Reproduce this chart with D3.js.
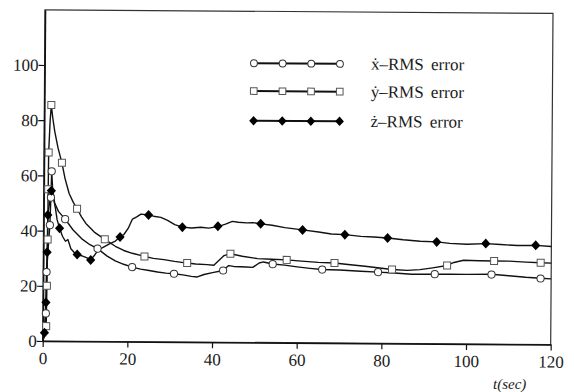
<!DOCTYPE html>
<html>
<head>
<meta charset="utf-8">
<script src="https://cdn.jsdelivr.net/npm/d3@7"></script>
<style>
  svg text { font-family: "Liberation Serif", "Times New Roman", Tinos, serif !important; }
</style>
</head>
<body style="margin:0">
<svg id="plotarea" width="574" height="392"></svg>
<script>
// ---------- data (t in seconds, value = RMS error) ----------
const xDotLine = [[0,0],[0.4,4],[0.7,10],[0.8,25],[1.2,35],[1.5,42],[1.7,52],[1.85,61.5],[2.1,55],[2.6,50],[3.5,47],[5.1,44.2],[7,40.3],[9,37.2],[11,35],[12.8,33.6],[15,31],[17,29.2],[19,28],[21,27],[23,26.3],[25,25.8],[27,25.3],[29,24.9],[30.9,24.7],[33,24.3],[35,23.8],[36.4,23.6],[38,24.5],[40,25.2],[42.5,26],[43.8,27.8],[45,27.5],[48,27.3],[49.5,27.2],[51,28.8],[52,29.2],[54.2,28.5],[57,28.1],[60,27.5],[63,27],[65.9,26.6],[70,26.5],[75,26.1],[79.1,25.8],[83,25.5],[87,25.1],[92.5,25.2],[96,25.2],[100,25.2],[105.9,25.3],[110,24.8],[114,24.3],[117.5,24],[120,23.8]];
const xDotMarks = [[0.7,10],[0.8,25],[1.5,42],[1.7,52],[1.85,61.5],[5.1,44.2],[12.8,33.6],[21,27],[30.9,24.7],[42.5,26],[54.2,28.4],[65.9,26.6],[79.1,25.8],[92.5,25.2],[105.9,25.2],[117.5,23.9]];

const yDotLine = [[0,0],[0.5,2],[0.8,5.4],[0.9,20],[1.0,36.8],[1.05,55],[1.1,68.3],[1.4,80],[1.65,85.5],[2.0,81],[2.5,76],[3.3,70],[4.25,64.6],[5,59],[6,53.5],[7,50.3],[7.9,48],[9,45],[10,42.7],[12,39.6],[14.5,37],[17,34.5],[19,33],[21,32],[23.9,30.9],[26,30.2],[28.5,29.8],[31,29.2],[34,28.6],[36,28.3],[38.7,28.1],[40.3,27.9],[42.7,31.4],[44.2,32.1],[47,31.2],[50.6,30.4],[54,30.2],[57.5,30],[61,29.6],[65,29.2],[68.8,29],[72,28.5],[76,27.9],[79,27.4],[82.4,26.8],[86,26.5],[89,26.8],[92,27.5],[95.4,28.4],[97,29.5],[99.3,30.3],[103,30.2],[106.5,30.1],[110,30.1],[114,29.8],[117.5,29.6],[120,29.5]];
const yDotMarks = [[0.8,5.4],[0.9,20],[1.0,36.8],[1.05,55],[1.1,68.3],[1.65,85.5],[4.25,64.6],[7.9,48],[14.5,37],[23.9,30.9],[34,28.6],[44.2,32.1],[57.5,30],[68.8,29],[82.4,26.8],[95.4,28.4],[106.5,30.1],[117.5,29.6]];

const zDotLine = [[0,0],[0.4,3],[0.7,14],[0.9,32.2],[1.0,45.7],[1.8,54.5],[2.3,52],[2.8,48],[3.2,44],[3.8,40.9],[4.5,38],[5.2,36.2],[5.8,36.8],[6.5,33.5],[7.2,32.3],[8,31.4],[9,31],[10.2,30.3],[11.2,29.5],[12,31],[13,33.2],[14,34],[15.5,35.3],[17,36.4],[18.1,37.9],[19,38.8],[20,41],[21,44.4],[22,45.2],[23,46.2],[24.8,45.9],[26,45.5],[27.7,45.1],[29.3,44],[31,42.5],[32.8,41.6],[35,41.3],[37.2,41.6],[39,41.3],[41.2,41.9],[43,42.8],[44.6,43.8],[46,43.5],[48,43.3],[49.5,43.4],[51.3,43.0],[54,42.5],[57,41.7],[61.2,40.9],[65,40.2],[68,39.5],[71.2,39.3],[75,38.7],[78,38.5],[81.3,38.2],[85,37.6],[89,37.1],[92.9,36.9],[96,36.4],[100,36.1],[104.5,36.4],[108,36.1],[112,35.8],[116.3,35.9],[120,35.5]];
const zDotMarks = [[0.4,3],[0.7,14],[0.9,32.2],[1.0,45.7],[1.8,54.5],[3.8,40.9],[8,31.4],[11.2,29.5],[18.1,37.9],[24.8,45.9],[32.8,41.6],[41.2,42],[51.3,43],[61.2,40.9],[71.2,39.3],[81.3,38.2],[92.9,36.9],[104.5,36.4],[116.3,35.9]];

const seriesNames = ["ẋ–RMS error", "ẏ–RMS error", "ż–RMS error"];
const seriesSymbols = ["circle", "square", "diamond"];
const xTicks = [0, 20, 40, 60, 80, 100, 120];
const yTicks = [0, 20, 40, 60, 80, 100];
const xDomain = [0, 120];
const yDomain = [0, 120];
const xLabel = "t(sec)";

// ---------- drawing ----------
const FONT = '"Liberation Serif", "Times New Roman", Tinos, serif';
const svg = d3.select("#plotarea");
const x = d3.scaleLinear().domain(xDomain).range([42.7, 550.7]);
const y = d3.scaleLinear().domain(yDomain).range([341, 9.8]);

const g = svg.append("g").attr("transform", "rotate(0.4,43,341)");

// frame
g.append("rect")
  .attr("x", x(0)).attr("y", y(120))
  .attr("width", x(120) - x(0)).attr("height", y(0) - y(120))
  .attr("fill", "none").attr("stroke", "#333").attr("stroke-width", 1.2);

// axes
const ax = g.append("g").attr("transform", `translate(0,${y(0)})`)
  .call(d3.axisBottom(x).tickValues(xTicks).tickSize(6).tickSizeOuter(0).tickPadding(5));
const ay = g.append("g").attr("transform", `translate(${x(0)},0)`)
  .call(d3.axisLeft(y).tickValues(yTicks).tickSize(6).tickSizeOuter(0).tickPadding(0));
[ax, ay].forEach(a => {
  a.attr("font-family", FONT).attr("font-size", 17);
  a.select(".domain").attr("stroke", "#111").attr("stroke-width", 1.6);
  a.selectAll(".tick line").attr("stroke", "#111").attr("stroke-width", 1.2);
  a.selectAll(".tick text").attr("fill", "#1a1a1a").style("font-family", FONT, "important");
});

const line = d3.line().x(d => x(d[0])).y(d => y(d[1]));
const lines = [xDotLine, yDotLine, zDotLine];
const marks = [xDotMarks, yDotMarks, zDotMarks];

lines.forEach(L => {
  g.append("path").datum(L).attr("d", line)
    .attr("fill", "none").attr("stroke", "#111").attr("stroke-width", 1.4)
    .attr("stroke-linejoin", "round");
});

function drawSymbol(sel, type, cx, cy, s) {
  if (type === "circle") {
    sel.append("circle").attr("cx", cx).attr("cy", cy).attr("r", 3.6 * s)
      .attr("fill", "#fff").attr("stroke", "#333").attr("stroke-width", 1);
  } else if (type === "square") {
    const h = 3.5 * s;
    sel.append("rect").attr("x", cx - h).attr("y", cy - h).attr("width", 2 * h).attr("height", 2 * h)
      .attr("fill", "#fff").attr("stroke", "#555").attr("stroke-width", 1);
  } else {
    const w = 4.6 * s, hh = 5 * s;
    sel.append("path").attr("d", `M${cx},${cy - hh}L${cx + w},${cy}L${cx},${cy + hh}L${cx - w},${cy}Z`)
      .attr("fill", "#000");
  }
}

marks.forEach((M, i) => {
  const mg = g.append("g");
  M.forEach(d => drawSymbol(mg, seriesSymbols[i], x(d[0]), y(d[1]), 1));
});

// legend
const legRows = [61.8, 89.6, 119.3];
const lg = g.append("g");
seriesNames.forEach((name, i) => {
  const yy = legRows[i];
  lg.append("line").attr("x1", 252).attr("x2", 338).attr("y1", yy).attr("y2", yy)
    .attr("stroke", "#111").attr("stroke-width", 2);
  [252, 280.7, 309.3, 338].forEach(cx => drawSymbol(lg, seriesSymbols[i], cx, yy, 0.95));
  lg.append("text").attr("x", 369).attr("y", yy + 5.5)
    .attr("font-size", 17).attr("fill", "#1a1a1a")
    .style("font-family", FONT, "important").style("word-spacing", "3px").text(name);
});

// x label
svg.append("text").attr("x", 493).attr("y", 388.5)
  .attr("font-size", 15).attr("font-style", "italic")
  .style("font-family", FONT, "important").attr("fill", "#1a1a1a").text(xLabel);
</script>
</body>
</html>
